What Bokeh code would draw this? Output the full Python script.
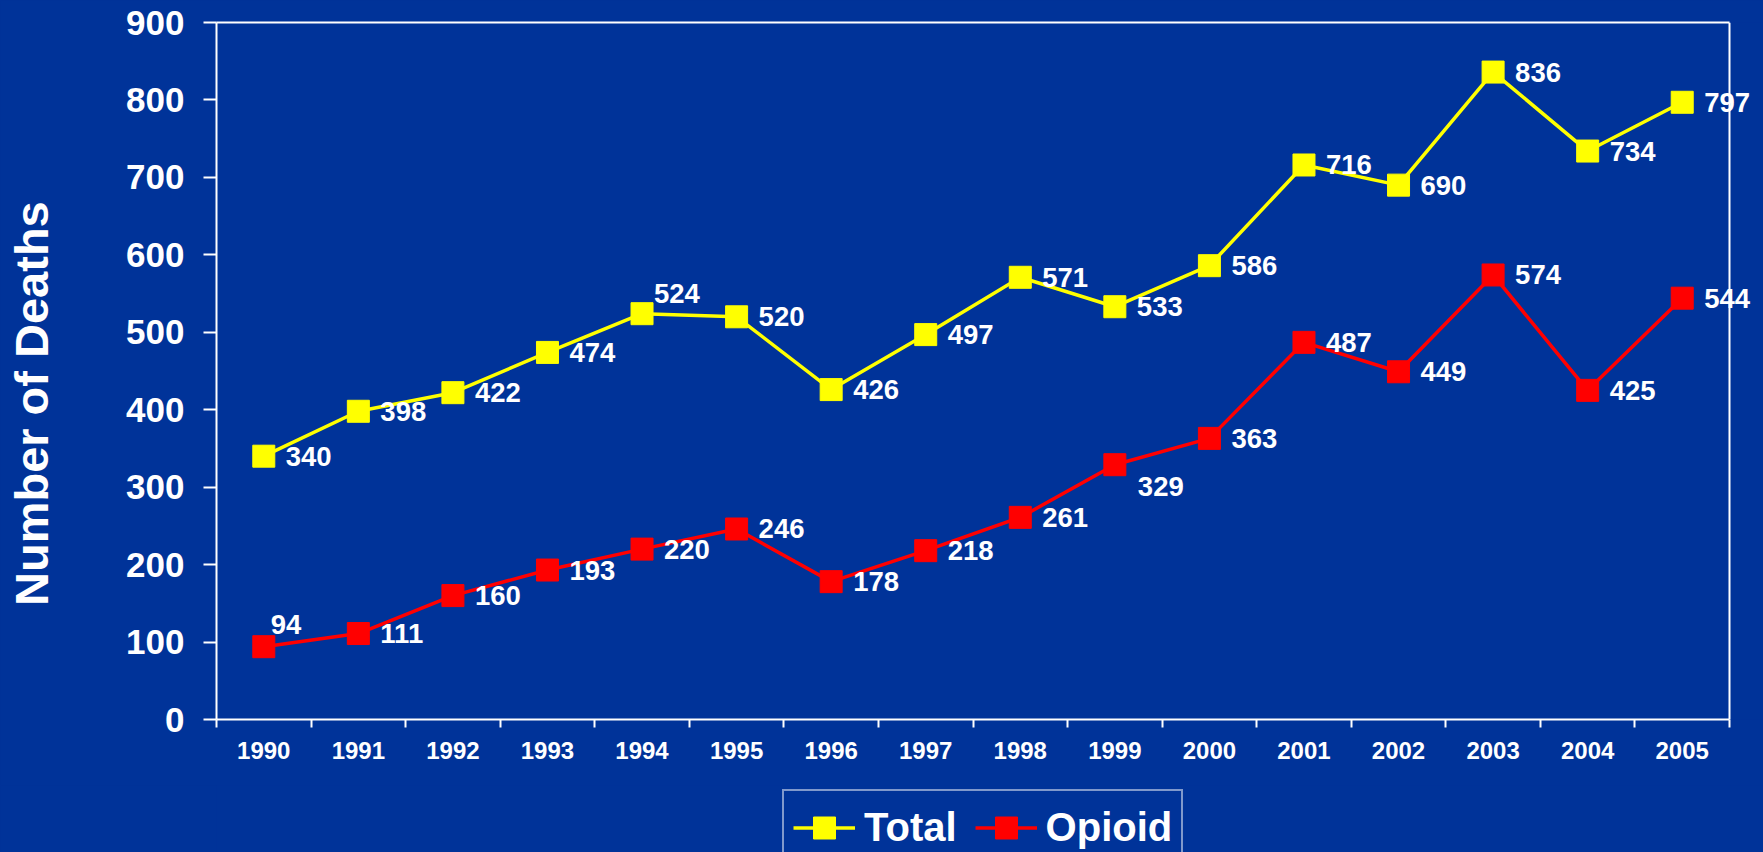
from bokeh.plotting import figure
from bokeh.layouts import column
from bokeh.models import (Range1d, FixedTicker, Legend, LegendItem, ColumnDataSource,
                          GlobalInlineStyleSheet, LinearAxis, Span)
from bokeh.core.properties import value
from bokeh.embed import file_html
from bokeh.resources import INLINE

years = [1990, 1991, 1992, 1993, 1994, 1995, 1996, 1997,
         1998, 1999, 2000, 2001, 2002, 2003, 2004, 2005]
total = [340, 398, 422, 474, 524, 520, 426, 497, 571, 533, 586, 716, 690, 836, 734, 797]
opioid = [94, 111, 160, 193, 220, 246, 178, 218, 261, 329, 363, 487, 449, 574, 425, 544]
series_names = ["Total", "Opioid"]

y_ticks = [0, 100, 200, 300, 400, 500, 600, 700, 800, 900]

# label offsets (screen px) - style only
total_dx = [22, 22, 22, 22, 12, 22, 22, 22, 22, 22, 22, 22, 22, 22, 22, 22]
total_dy = [0, 0, 0, 0, -20, 0, 0, 0, 0, 0, 0, 0, 0, 0, 0, 0]
opioid_dx = [7, 22, 22, 22, 22, 22, 22, 22, 22, 23, 22, 22, 22, 22, 22, 22]
opioid_dy = [-22, 0, 0, 0, 0, 0, 0, 0, 0, 22, 0, 0, 0, 0, 0, 0]

BG = "#003399"
FONT = "Liberation Sans"
YELLOW = "#FFFF00"
RED = "#FF0000"
NBSP = "\u00a0"

W = 1763
H_MAIN = 785
H_LEG = 67
LEFT = 216
PLOT_PX = 1513          # pixel width of the 16 year slots
FRAME_PX = W - LEFT     # frame reaches the right edge so labels are not clipped

x0 = years[0] - 0.5
x1 = years[-1] + 0.5
x_end = x0 + (x1 - x0) * FRAME_PX / PLOT_PX

p = figure(width=W, height=H_MAIN, output_backend="svg", toolbar_location=None,
           title=None,
           x_range=Range1d(x0, x_end),
           y_range=Range1d(y_ticks[0], y_ticks[-1]),
           min_border_left=LEFT, min_border_right=0, min_border_top=22, min_border_bottom=66)
p.stylesheets = [GlobalInlineStyleSheet(css="body { background-color: %s; }" % BG)]

p.background_fill_color = BG
p.border_fill_color = BG
p.outline_line_color = None
p.grid.visible = False

# x axis
xa = p.xaxis[0]
xa.bounds = (x0, x1)
xa.ticker = FixedTicker(ticks=years, minor_ticks=[y - 0.5 for y in years] + [x1])
xa.major_tick_line_color = None
xa.major_tick_out = 8
xa.major_tick_in = 0
xa.minor_tick_line_color = "white"
xa.minor_tick_line_width = 2
xa.minor_tick_out = 8
xa.minor_tick_in = 0
xa.axis_line_color = "white"
xa.axis_line_width = 2
xa.major_label_text_color = "white"
xa.major_label_text_font = FONT
xa.major_label_text_font_style = "bold"
xa.major_label_text_font_size = "24px"
xa.major_label_standoff = 14

# top border of the plot area
top_axis = LinearAxis(ticker=FixedTicker(ticks=[], minor_ticks=[]), bounds=(x0, x1),
                      axis_line_color="white", axis_line_width=2,
                      major_tick_line_color=None, minor_tick_line_color=None,
                      major_tick_out=0, major_tick_in=0, minor_tick_out=0, minor_tick_in=0,
                      major_label_text_font_size="0px", major_label_standoff=0)
p.add_layout(top_axis, "above")

# right border of the plot area
p.add_layout(Span(location=x1, dimension="height", line_color="white", line_width=2))

# y axis
ya = p.yaxis[0]
ya.ticker = FixedTicker(ticks=y_ticks, minor_ticks=[])
ya.major_tick_line_color = "white"
ya.major_tick_line_width = 2
ya.major_tick_out = 13
ya.major_tick_in = 0
ya.minor_tick_line_color = None
ya.axis_line_color = "white"
ya.axis_line_width = 2
ya.major_label_text_color = "white"
ya.major_label_text_font = FONT
ya.major_label_text_font_style = "bold"
ya.major_label_text_font_size = "35px"
ya.major_label_standoff = 19
ya.axis_label = "Number of Deaths" + NBSP * 5
ya.axis_label_text_color = "white"
ya.axis_label_text_font = FONT
ya.axis_label_text_font_style = "bold"
ya.axis_label_text_font_size = "47px"
ya.axis_label_standoff = 65

src_t = ColumnDataSource(dict(x=years, y=total, label=[str(v) for v in total], dx=total_dx, dy=total_dy))
src_o = ColumnDataSource(dict(x=years, y=opioid, label=[str(v) for v in opioid], dx=opioid_dx, dy=opioid_dy))

p.line('x', 'y', source=src_t, line_color=YELLOW, line_width=3.5)
p.scatter('x', 'y', source=src_t, marker="square", size=22, fill_color=YELLOW, line_color=YELLOW)
p.line('x', 'y', source=src_o, line_color=RED, line_width=3.5)
p.scatter('x', 'y', source=src_o, marker="square", size=22, fill_color=RED, line_color=RED)

for src in (src_t, src_o):
    p.text('x', 'y', text='label', source=src, x_offset='dx', y_offset='dy',
           text_font=value(FONT), text_font_style="bold", text_font_size="27.5px",
           text_color="white", text_align="left", text_baseline="middle")

# legend strip below the chart (its frame is aligned with the chart's frame)
q = figure(width=W, height=H_LEG, output_backend="svg", toolbar_location=None, title=None,
           x_range=Range1d(0, 1), y_range=Range1d(0, 1),
           x_axis_location=None, y_axis_location=None,
           min_border_left=0, min_border_right=0, min_border_top=0, min_border_bottom=0)
q.background_fill_color = BG
q.border_fill_color = BG
q.outline_line_color = None
q.grid.visible = False

items = []
for name, col, src in zip(series_names, (YELLOW, RED), (src_t, src_o)):
    l = q.line('x', 'y', source=src, line_color=col, line_width=3.5)
    m = q.scatter('x', 'y', source=src, marker="square", size=22, fill_color=col, line_color=col)
    items.append(LegendItem(label=name, renderers=[l, m], index=0))

legend = Legend(items=items, location=(782 - LEFT, -14), orientation="horizontal",
                label_text_font=FONT, label_text_font_style="bold", label_text_font_size="40px",
                label_text_color="white", glyph_width=62, glyph_height=55,
                label_standoff=9, spacing=18, padding=9, margin=0,
                border_line_color="white", border_line_width=2,
                background_fill_color=BG, background_fill_alpha=1.0)
q.add_layout(legend, "center")

layout = column(p, q, spacing=0)
open("out.html", "w").write(file_html(layout, INLINE))
